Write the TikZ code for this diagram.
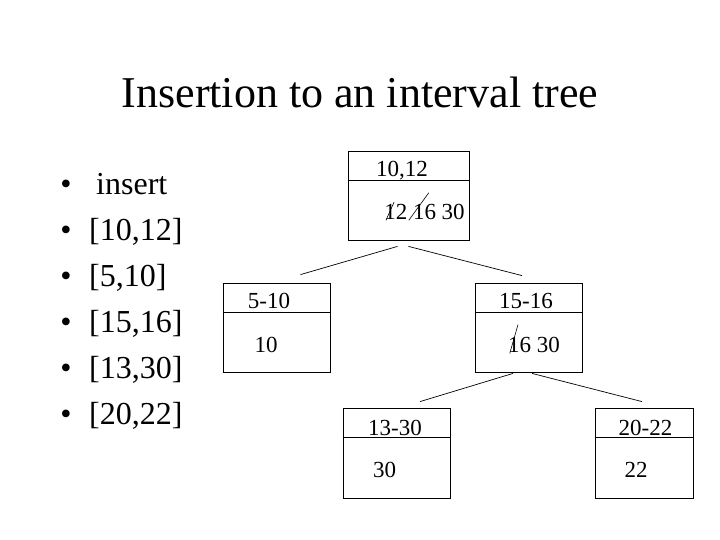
\documentclass[tikz,border=0pt]{standalone}
\usepackage{fontspec}
\setmainfont{Liberation Serif}
\usepackage{graphicx}
\usetikzlibrary{calc}
\tikzset{
  ivbox/.style={rectangle, draw, line width=0.8pt,
    minimum width=107pt, minimum height=89pt, inner sep=0pt},
  ivtext/.style={font=\fontsize{23}{27}\selectfont, inner sep=0pt, anchor=base},
  itemtext/.style={font=\fontsize{32}{38}\selectfont, inner sep=0pt, anchor=base west},
  bullet/.style={font=\fontsize{32}{38}\selectfont, inner sep=0pt, anchor=base},
  link/.style={line width=0.7pt}
}
% digit with a stroke through it: #1 angle, #2 stroke length, #3 digit
\newcommand{\struck}[3]{\ooalign{#3\cr\hidewidth\raisebox{-1.5pt}{\rotatebox{#1}{\rule{#2}{0.6pt}}}\hidewidth\cr}}

\begin{document}
\begin{tikzpicture}[x=1pt, y=-1pt]
\useasboundingbox (0,0) rectangle (720,540);

% title
\node[font=\fontsize{44}{52}\selectfont, inner sep=0pt, anchor=base] (title) at (360,108) {Insertion to an interval tree};

% list of intervals
\node[bullet]   (b1) at (66,194.5) {•};
\node[itemtext] (l1) at (96,194.5) {insert};
\node[bullet]   (b2) at (66,240.5) {•};
\node[itemtext] (l2) at (89,240.5) {[10,12]};
\node[bullet]   (b3) at (66,286.5) {•};
\node[itemtext] (l3) at (89,286.5) {[5,10]};
\node[bullet]   (b4) at (66,332.5) {•};
\node[itemtext] (l4) at (89,332.5) {[15,16]};
\node[bullet]   (b5) at (66,378.5) {•};
\node[itemtext] (l5) at (89,378.5) {[13,30]};
\node[bullet]   (b6) at (66,424.5) {•};
\node[itemtext] (l6) at (89,424.5) {[20,22]};

% tree nodes
\node[ivbox, minimum width=121pt] (root) at (408.5,195.5) {};
\node[ivbox] (lo) at (276.5,327.5) {};
\node[ivbox] (hi) at (528.5,327.5) {};
\node[ivbox, minimum height=90pt] (mid) at (396.5,453) {};
\node[ivbox, minimum width=98pt, minimum height=90pt] (rt) at (644,453) {};

% dividers
\foreach \b in {root,lo,hi,mid,rt}
  \draw[link] ($(\b.north west)+(0pt,-30pt)$) -- ($(\b.north east)+(0pt,-30pt)$);

% intervals and max values
\node[ivtext] (rootiv)  at (402,177)   {10,12};
\node[ivtext] (rootmax) at (424.5,219) {\struck{66}{20pt}{1}2 \struck{54}{34pt}{1}6 30};
\node[ivtext] (loiv)    at (269,308)   {5-10};
\node[ivtext] (lomax)   at (266,352)   {10};
\node[ivtext] (hiiv)    at (526,308)   {15-16};
\node[ivtext] (himax)   at (534,352)   {\struck{74}{30pt}{1}6 30};
\node[ivtext] (midiv)   at (395,435)   {13-30};
\node[ivtext] (midmax)  at (384.5,477) {30};
\node[ivtext] (rtiv)    at (645.5,435) {20-22};
\node[ivtext] (rtmax)   at (636,477)   {22};

% edges
\draw[link] ($(root.south)+(-11pt,-6pt)$) -- ($(lo.north)+(24pt,8pt)$);
\draw[link] ($(root.south)+(0pt,-6pt)$)   -- ($(hi.north)+(-6.5pt,7pt)$);
\draw[link] ($(hi.south)+(-15.5pt,-1pt)$) -- ($(mid.north)+(23.5pt,6pt)$);
\draw[link] ($(hi.south)+(3.5pt,-1pt)$)   -- ($(rt.north)+(-2pt,6pt)$);

\end{tikzpicture}
\end{document}
